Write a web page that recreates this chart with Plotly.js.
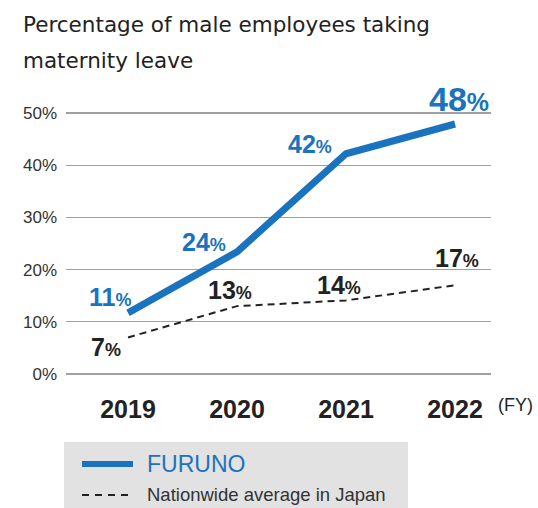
<!DOCTYPE html>
<html>
<head>
<meta charset="utf-8">
<script src="https://cdn.plot.ly/plotly-3.0.1.min.js"></script>
<style>html,body{margin:0;padding:0;background:#fff;}#chart{width:538px;height:508px;}</style>
</head>
<body>
<div id="chart"></div>
<script>
const years = ['2019', '2020', '2021', '2022'];
const furuno = [11.7, 23.4, 42.2, 47.9];
const nationwide = [7.0, 13.0, 14.1, 17.0];
const furunoLabels = ['11', '24', '42', '48'];
const nationwideLabels = ['7', '13', '14', '17'];
const yTicks = [0, 10, 20, 30, 40, 50];
const yTickText = ['0%', '10%', '20%', '30%', '40%', '50%'];
const titleLines = ['Percentage of male employees taking', 'maternity leave'];

const BLUE = '#1a73be';
const FONT = 'Liberation Sans, Arial, sans-serif';
const TFONT = 'DejaVu Sans, sans-serif';
const W = 538, H = 508;
const M = {l: 66, r: 47, t: 112, b: 133};
const PW = W - M.l - M.r, PH = H - M.t - M.b;
const px = x => (x - M.l) / PW;
const py = y => (H - M.b - y) / PH;

const traces = [
  {x: years, y: nationwide, type: 'scatter', mode: 'lines',
   line: {color: '#222', width: 2, dash: '7px,5px'}, hoverinfo: 'skip', showlegend: false},
  {x: years, y: furuno, type: 'scatter', mode: 'lines',
   line: {color: BLUE, width: 7}, hoverinfo: 'skip', showlegend: false}
];

const annotations = [];
const fOff = [[-18, 16], [-33, 10], [-36, 10], [4, 25]];
furuno.forEach((v, i) => {
  const big = i === 3;
  annotations.push({
    x: i, y: v, xref: 'x', yref: 'y', showarrow: false,
    xshift: fOff[i][0], yshift: fOff[i][1],
    text: '<b>' + furunoLabels[i] + '<span style="font-size:' + (big ? 25 : 18) + 'px">%</span></b>',
    font: {family: FONT, size: big ? 34 : 25, color: BLUE}
  });
});
const nOff = [[-22, -10], [-7, 16], [-7, 15], [2, 27]];
nationwide.forEach((v, i) => {
  annotations.push({
    x: i, y: v, xref: 'x', yref: 'y', showarrow: false,
    xshift: nOff[i][0], yshift: nOff[i][1],
    text: '<b>' + nationwideLabels[i] + '<span style="font-size:18px">%</span></b>',
    font: {family: FONT, size: 25, color: '#222'}
  });
});
// Title (two lines)
titleLines.forEach((t, i) => {
  annotations.push({
    x: px(21), y: py(25 + i * 35), xref: 'paper', yref: 'paper', xanchor: 'left', yanchor: 'middle',
    align: 'left', showarrow: false, text: t,
    font: {family: TFONT, size: 21.5, color: '#222'}
  });
});
// (FY)
annotations.push({
  x: px(515), y: py(405), xref: 'paper', yref: 'paper', xanchor: 'center', yanchor: 'middle', showarrow: false,
  text: '(FY)', font: {family: FONT, size: 18, color: '#222'}
});
// Legend text
annotations.push({
  x: px(145), y: py(464), xref: 'paper', yref: 'paper', xanchor: 'left', yanchor: 'middle', showarrow: false,
  text: 'FURUNO', font: {family: FONT, size: 23, color: BLUE}
});
annotations.push({
  x: px(145), y: py(494), xref: 'paper', yref: 'paper', xanchor: 'left', yanchor: 'middle', showarrow: false,
  text: 'Nationwide average in Japan', font: {family: FONT, size: 18.5, color: '#333'}
});

const shapes = [
  {type: 'rect', xref: 'paper', yref: 'paper', x0: px(64), x1: px(408), y0: py(510), y1: py(442),
   fillcolor: '#e2e2e2', line: {width: 0}, layer: 'below'},
  {type: 'line', xref: 'paper', yref: 'paper', x0: px(82), x1: px(133), y0: py(464), y1: py(464),
   line: {color: BLUE, width: 6}},
  {type: 'line', xref: 'paper', yref: 'paper', x0: px(82), x1: px(130), y0: py(495), y1: py(495),
   line: {color: '#222', width: 2, dash: '7px,6px'}}
];

const layout = {
  width: W, height: H,
  margin: {l: M.l, r: M.r, t: M.t, b: M.b, pad: 0},
  paper_bgcolor: '#fff', plot_bgcolor: '#fff',
  showlegend: false,
  xaxis: {
    type: 'category', range: [-0.569, 3.33], showgrid: false, zeroline: false, showline: false,
    ticks: '', ticklabelstandoff: 17,
    tickfont: {family: FONT, size: 25, color: '#222', weight: 'bold'}, fixedrange: true
  },
  yaxis: {
    range: [-0.2, 50.2], tickvals: yTicks, ticktext: yTickText,
    showgrid: true, gridcolor: '#a0a0a0', gridwidth: 1.3, zeroline: false, showline: false,
    ticks: '', ticklabelstandoff: 8,
    tickfont: {family: FONT, size: 17, color: '#333'}, fixedrange: true
  },
  annotations: annotations,
  shapes: shapes
};

Plotly.newPlot('chart', traces, layout, {staticPlot: true, displayModeBar: false});
</script>
</body>
</html>
